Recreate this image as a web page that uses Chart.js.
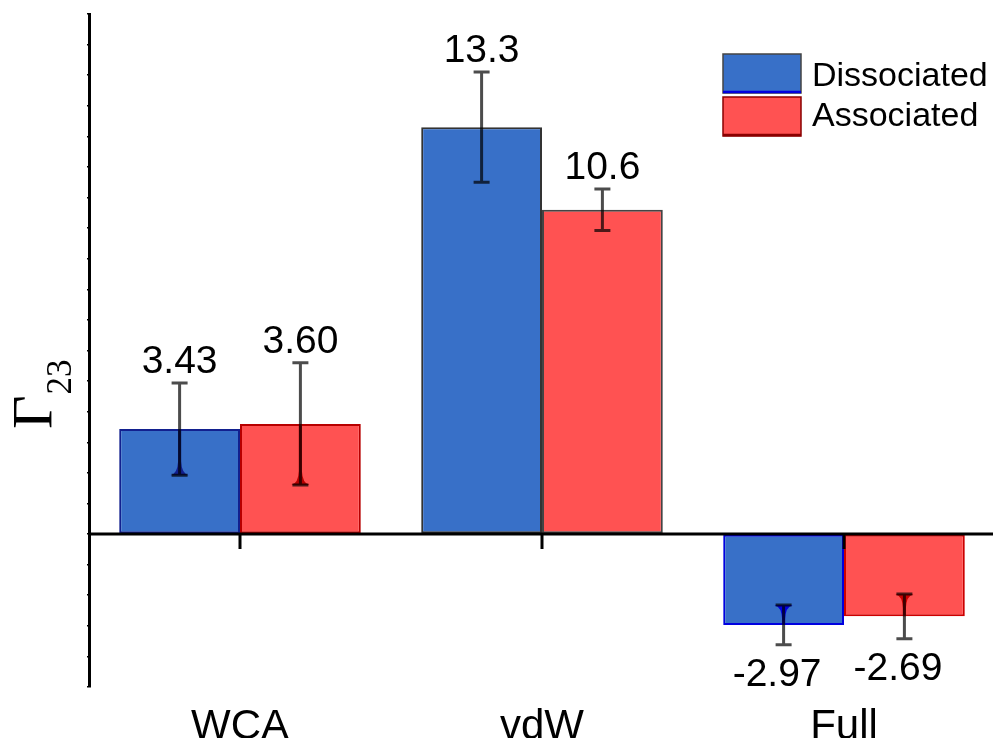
<!DOCTYPE html>
<html>
<head>
<meta charset="utf-8">
<script src="https://cdn.jsdelivr.net/npm/chart.js@4/dist/chart.umd.min.js"></script>
<style>
  html, body { margin: 0; padding: 0; background: #fff; overflow: hidden; }
  canvas { display: block; }
</style>
</head>
<body>
<canvas id="chart" width="995" height="738"></canvas>
<script>
// Data
const categories = ['WCA', 'vdW', 'Full'];
const seriesNames = ['Dissociated', 'Associated'];
const dissociated = [3.43, 13.3, -2.97];
const associated = [3.60, 10.6, -2.69];
const dissociatedErr = [1.51, 1.8, 0.65];
const associatedErr = [2.0, 0.68, 0.73];

// Styles
const SANS = "'Liberation Sans', Arial, sans-serif";
const SERIF = "'Liberation Serif', 'Times New Roman', serif";
const fills = ['#3870c8', '#ff5252'];
const edges = [['#12208f', '#333333', '#0000e0'], ['#b80000', '#444444', '#cc0000']];
const tintedEdge = [[true, false, true], [true, false, true]];

const values = [dissociated, associated];
const errors = [dissociatedErr, associatedErr];

const decor = {
  id: 'decor',
  afterDatasetsDraw(chart) {
    const { ctx, chartArea: a, scales: { x, y } } = chart;
    const y0 = y.getPixelForValue(0);
    ctx.save();

    // error bars
    values.forEach((vals, d) => {
      const meta = chart.getDatasetMeta(d);
      meta.data.forEach((bar, i) => {
        const v = vals[i], e = errors[d][i];
        const hi = y.getPixelForValue(v + e);
        const lo = y.getPixelForValue(v - e);
        const cx = bar.x;
        const inner = v >= 0 ? lo : hi;       // cap that sits inside the bar
        if (tintedEdge[d][i]) {
          const dir = v >= 0 ? 1 : -1;
          ctx.fillStyle = edges[d][i];
          ctx.beginPath();
          ctx.moveTo(cx - 1.5, bar.y);
          ctx.lineTo(cx - 1.5, inner - dir * 14);
          ctx.quadraticCurveTo(cx - 2, inner - dir * 2, cx - 9, inner);
          ctx.lineTo(cx + 9, inner);
          ctx.quadraticCurveTo(cx + 2, inner - dir * 2, cx + 1.5, inner - dir * 14);
          ctx.lineTo(cx + 1.5, bar.y);
          ctx.closePath();
          ctx.fill();
        }
        ctx.strokeStyle = 'rgba(0,0,0,0.7)';
        ctx.lineWidth = 3;
        ctx.lineCap = 'butt';
        ctx.beginPath();
        ctx.moveTo(cx, hi); ctx.lineTo(cx, lo);
        ctx.moveTo(cx - 8, hi); ctx.lineTo(cx + 8, hi);
        ctx.moveTo(cx - 8, lo); ctx.lineTo(cx + 8, lo);
        ctx.stroke();

        // value label
        const txt = v.toPrecision(3);
        ctx.font = '39px ' + SANS;
        ctx.fillStyle = '#000';
        ctx.textBaseline = 'alphabetic';
        if (v >= 0) {
          ctx.textAlign = 'center';
          ctx.fillText(txt, cx, hi - 10);
        } else {
          const w = ctx.measureText(txt.replace('-', '')).width;
          ctx.textAlign = 'right';
          ctx.fillText(txt, cx + w / 2, lo + 41);
        }
      });
    });

    // zero line and category ticks
    ctx.strokeStyle = '#000';
    ctx.lineWidth = 3;
    ctx.beginPath();
    ctx.moveTo(a.left, y0); ctx.lineTo(a.right, y0);
    categories.forEach((c, i) => {
      const px = x.getPixelForValue(i);
      ctx.moveTo(px, y0); ctx.lineTo(px, y0 + 15);
    });
    ctx.stroke();
    ctx.restore();
  },
  afterDraw(chart) {
    const { ctx } = chart;
    ctx.save();
    // legend
    const boxes = [{ y: 54 }, { y: 97 }];
    const legendEdge = [['#444', '#0000e0'], ['#8a0000', '#8a0000']];
    boxes.forEach((b, k) => {
      ctx.fillStyle = fills[k];
      ctx.fillRect(723, b.y, 78, 39);
      ctx.strokeStyle = legendEdge[k][0];
      ctx.lineWidth = 1.5;
      ctx.strokeRect(723, b.y, 78, 39);
      ctx.strokeStyle = legendEdge[k][1];
      ctx.lineWidth = 2.5;
      ctx.beginPath(); ctx.moveTo(723, b.y + 38); ctx.lineTo(801, b.y + 38); ctx.stroke();
      ctx.fillStyle = '#000';
      ctx.font = '34px ' + SANS;
      ctx.textAlign = 'left';
      ctx.textBaseline = 'alphabetic';
      ctx.fillText(seriesNames[k], 812, k === 0 ? 86 : 126);
    });

    // y axis title: Γ with subscript 23, rotated
    ctx.translate(52, 429);
    ctx.rotate(-Math.PI / 2);
    ctx.fillStyle = '#000';
    ctx.textAlign = 'left';
    ctx.textBaseline = 'alphabetic';
    ctx.font = '58px ' + SERIF;
    ctx.fillText('Γ', 0, 0);
    const gw = ctx.measureText('Γ').width;
    ctx.font = '35px ' + SERIF;
    ctx.fillText('23', gw + 1, 19);
    ctx.restore();
  }
};

new Chart(document.getElementById('chart'), {
  type: 'bar',
  data: {
    labels: categories,
    datasets: [
      { label: seriesNames[0], data: dissociated, backgroundColor: fills[0], borderColor: edges[0], borderWidth: 2, borderSkipped: false },
      { label: seriesNames[1], data: associated, backgroundColor: fills[1], borderColor: edges[1], borderWidth: 2, borderSkipped: false }
    ]
  },
  options: {
    responsive: false,
    animation: false,
    layout: { padding: { top: 14, left: 0, right: 0, bottom: 0 } },
    datasets: { bar: { categoryPercentage: 0.8, barPercentage: 1.0 } },
    plugins: { legend: { display: false }, tooltip: { enabled: false } },
    scales: {
      x: {
        grid: { display: false },
        border: { display: false },
        ticks: { color: '#000', font: { family: SANS, size: 42 }, padding: 7, maxRotation: 0 },
        afterFit(s) { s.height = 51; }
      },
      y: {
        min: -5, max: 17,
        ticks: { display: false, stepSize: 1 },
        grid: { drawOnChartArea: false, drawTicks: true, tickLength: 2, color: '#000', lineWidth: 1.5 },
        border: { color: '#000', width: 3 },
        afterFit(s) { s.width = 89; }
      }
    }
  },
  plugins: [decor]
});
</script>
</body>
</html>
